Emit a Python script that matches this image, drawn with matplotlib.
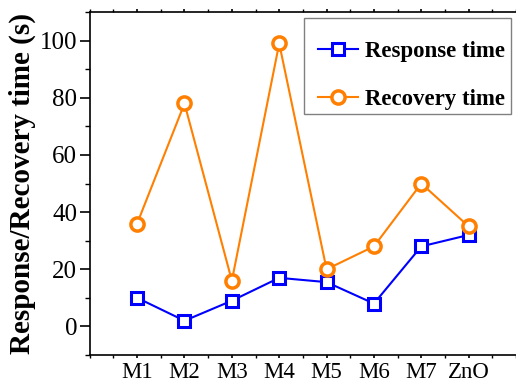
import numpy as np
import matplotlib.pyplot as plt
from matplotlib.patches import Rectangle
from matplotlib.ticker import MultipleLocator

# data
samples = ["M1", "M2", "M3", "M4", "M5", "M6", "M7", "ZnO"]
response = [10, 2, 9, 17, 15.5, 8, 28, 32]
recovery = [36, 78, 16, 99, 20, 28, 50, 35]

plt.rcParams['font.family'] = ['Liberation Serif', 'DejaVu Serif']

fig = plt.figure(figsize=(5.16, 3.88), dpi=100)
ax = fig.add_axes([0.174, 0.085, 0.826, 0.884])

x = np.arange(1, len(samples) + 1)
ax.plot(x, response, color="#0000ff", marker="s", markersize=8, markeredgewidth=2.2,
        markerfacecolor="white", lw=1.5, label="Response time")
ax.plot(x, recovery, color="#ff7f00", marker="o", markersize=9.5, markeredgewidth=2.5,
        markerfacecolor="white", lw=1.5, label="Recovery time")

ax.set_xlim(0, 9)
ax.set_ylim(-10, 110)
ax.set_xticks(x)
ax.set_xticklabels(samples)
ax.xaxis.set_minor_locator(MultipleLocator(0.5))
ax.yaxis.set_major_locator(MultipleLocator(20))
ax.yaxis.set_minor_locator(MultipleLocator(10))
ax.tick_params(axis="both", which="major", length=7, width=1.2, direction="out")
ax.tick_params(axis="both", which="minor", length=3.5, width=1.0, direction="out")
ax.tick_params(axis="y", labelsize=18, pad=2)
ax.tick_params(axis="x", labelsize=16.5, pad=3)
ax.tick_params(axis="x", which="major", top=True, length=2)
ax.tick_params(axis="x", which="minor", top=True, length=2)
ax.spines["right"].set_visible(False)
for s in ["left", "bottom", "top"]:
    ax.spines[s].set_linewidth(1.2)

ax.set_ylabel("Response/Recovery time (s)", fontsize=21, fontweight="bold", labelpad=3)

# legend box drawn separately (Origin-style, extra space above the entries)
ax.add_patch(Rectangle((0.502, 0.703), 0.486, 0.28, transform=ax.transAxes,
                       facecolor="white", edgecolor="#808080", lw=1.0, zorder=4))
leg = ax.legend(loc="upper left", bbox_to_anchor=(0.535, 0.917), prop={"weight": "bold", "size": 16.5},
                frameon=False, borderpad=0, borderaxespad=0, labelspacing=1.2,
                handlelength=1.75, handletextpad=0.3)
leg.set_zorder(5)

fig.savefig("out.png", dpi=100)
